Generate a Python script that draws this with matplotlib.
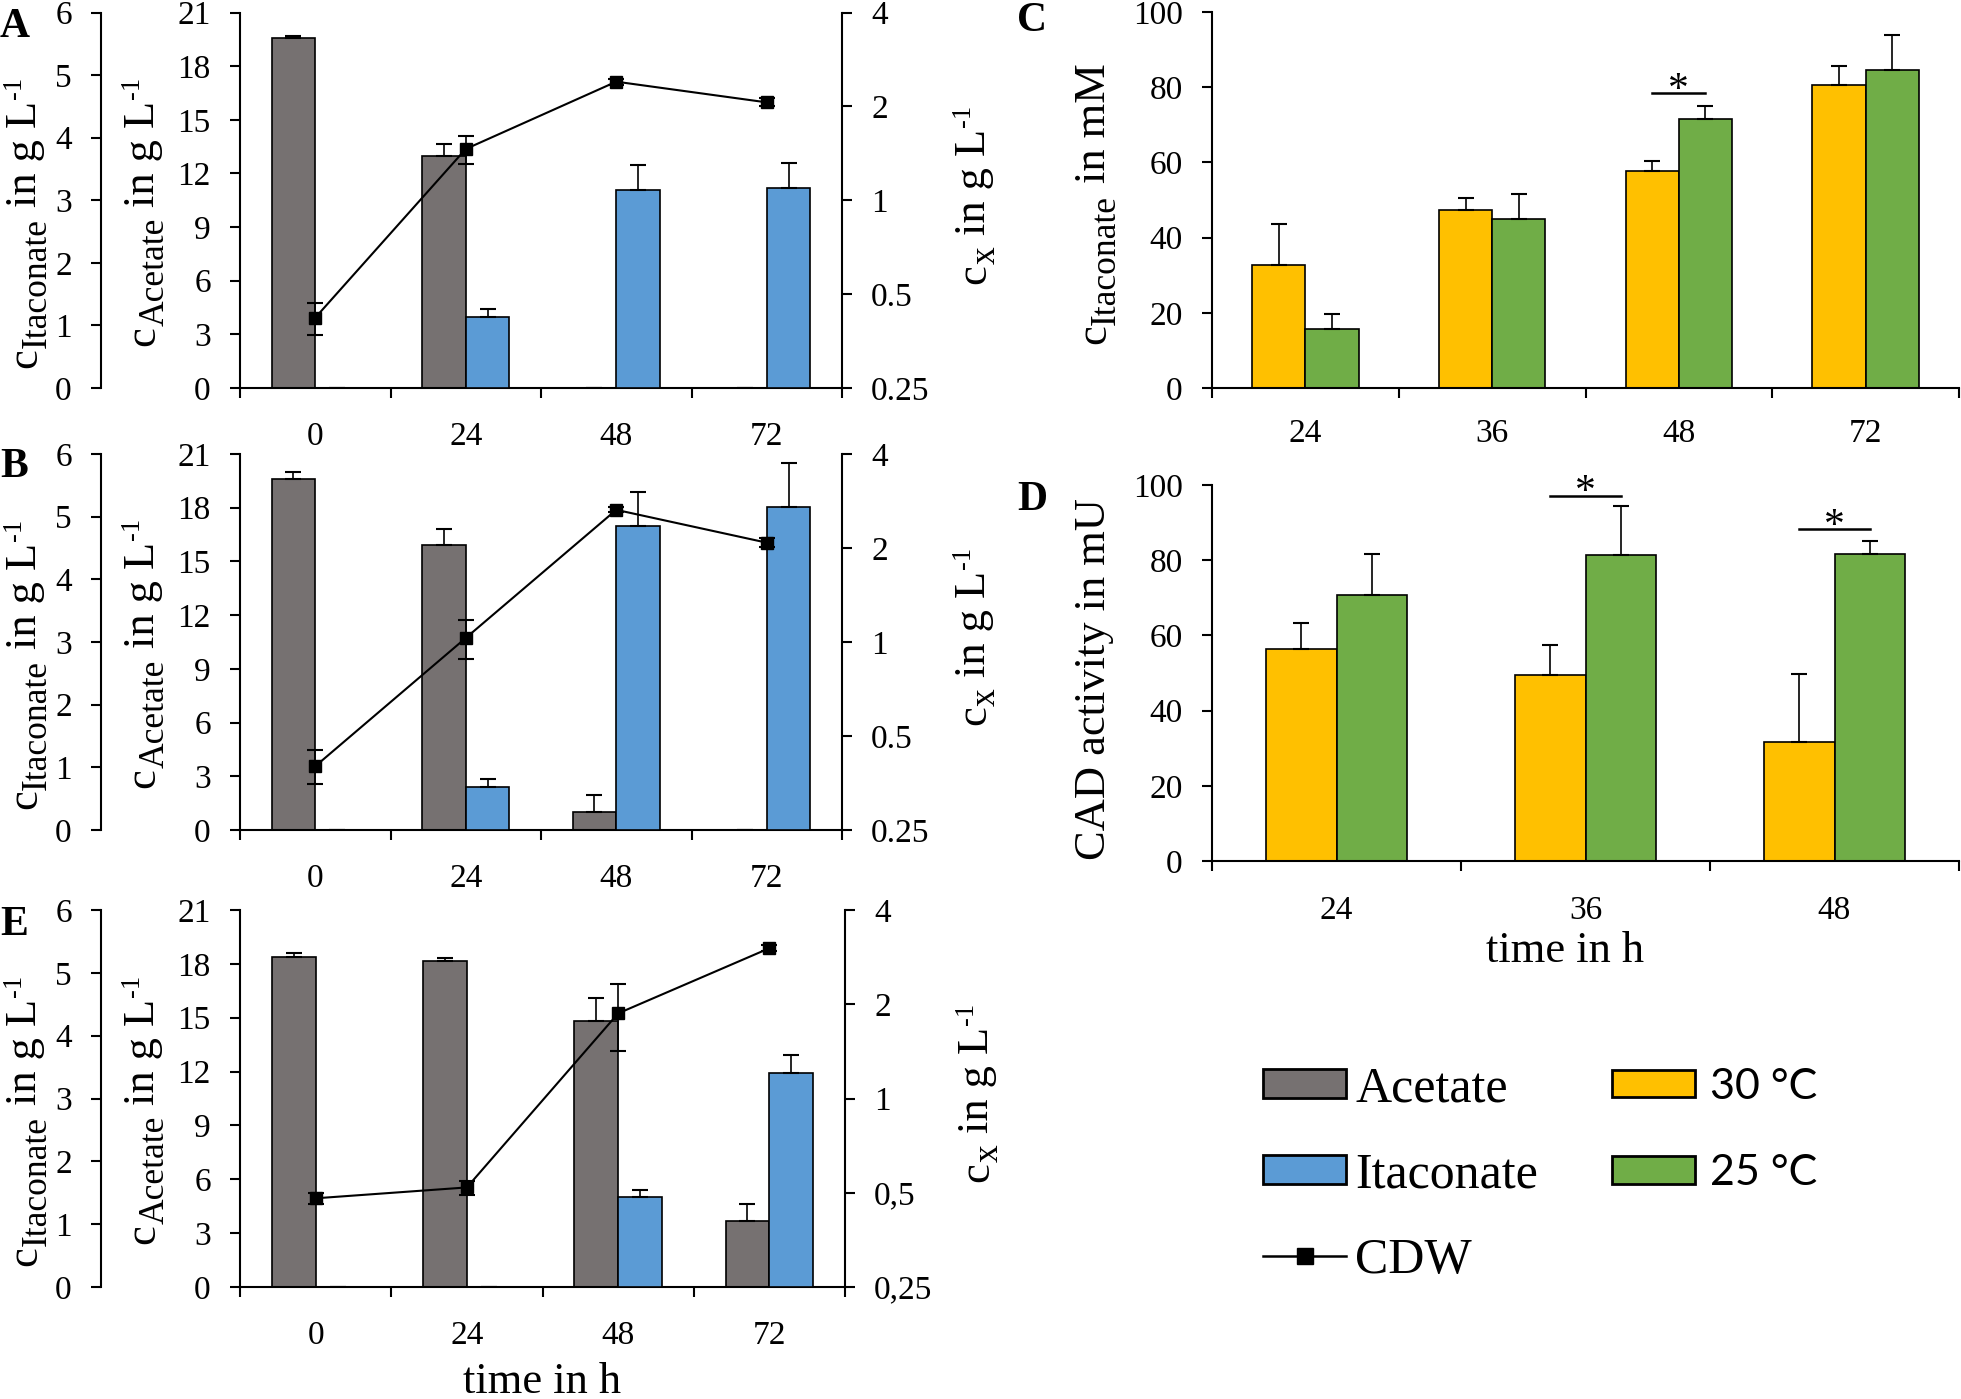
import numpy as np
import matplotlib
matplotlib.use('Agg')
import matplotlib.pyplot as plt
from matplotlib.patches import Patch
from matplotlib.lines import Line2D
from matplotlib.ticker import NullLocator
from matplotlib.transforms import IdentityTransform

plt.rcParams['font.family'] = ['Liberation Serif', 'DejaVu Serif']

# ---------------- data ----------------
time_abe = ['0', '24', '48', '72']

A_acetate = [19.56, 13.0, 0.0, 0.0]
A_acetate_err = [0.10, 0.65, 0.0, 0.0]
A_itaconate = [0.0, 1.13, 3.16, 3.19]
A_itaconate_err = [0.0, 0.14, 0.41, 0.40]
A_cdw = [0.42, 1.46, 2.40, 2.06]
A_cdw_err = [0.05, 0.15, 0.05, 0.06]

B_acetate = [19.6, 15.94, 1.0, 0.0]
B_acetate_err = [0.37, 0.86, 0.95, 0.0]
B_itaconate = [0.0, 0.69, 4.85, 5.16]
B_itaconate_err = [0.0, 0.12, 0.55, 0.70]
B_cdw = [0.40, 1.03, 2.65, 2.08]
B_cdw_err = [0.05, 0.15, 0.05, 0.07]

E_acetate = [18.4, 18.14, 14.79, 3.65]
E_acetate_err = [0.2, 0.2, 1.3, 1.0]
E_itaconate = [0.0, 0.0, 1.44, 3.41]
E_itaconate_err = [0.0, 0.0, 0.11, 0.28]
E_cdw = [0.48, 0.52, 1.87, 3.02]
E_cdw_err = [0.02, 0.027, 0.45, 0.07]

time_c = ['24', '36', '48', '72']
C_30 = [32.6, 47.4, 57.6, 80.7]
C_30_err = [10.9, 3.2, 2.9, 5.0]
C_25 = [15.8, 45.0, 71.5, 84.5]
C_25_err = [4.0, 6.5, 3.6, 9.5]
C_sig_idx = [2]
C_sig_y = [78.5]

time_d = ['24', '36', '48']
D_30 = [56.4, 49.6, 31.7]
D_30_err = [6.8, 7.9, 18.0]
D_25 = [70.7, 81.3, 81.6]
D_25_err = [11.0, 13.1, 3.6]
D_sig_idx = [1, 2]
D_sig_y = [97.2, 88.2]

itac_ticks = [0, 1, 2, 3, 4, 5, 6]
acet_ticks = [0, 3, 6, 9, 12, 15, 18, 21]
cdw_ticks = [0.25, 0.5, 1, 2, 4]
cdw_labels_dot = ['0.25', '0.5', '1', '2', '4']
cdw_labels_comma = ['0,25', '0,5', '1', '2', '4']
pct_ticks = [0, 20, 40, 60, 80, 100]

# ---------------- style ----------------
GRAY = '#767171'
BLUE = '#5B9BD5'
YELLOW = '#FFC000'
GREEN = '#70AD47'
TICK_FS = 24
LAB_FS = 32
SPW = 1.5

W, H = 1961, 1399
fig = plt.figure(figsize=(W / 100, H / 100), dpi=100)
renderer = fig.canvas.get_renderer()

# label pieces: (text, size factor, baseline shift in em (+ = lowered), gap before in em)
LBL_IT = [('c', 1, 0, 0), ('Itaconate', 0.8, 0.22, 0.0), ('in g L', 1, 0, 0.25), ('-1', 0.6, -0.33, 0.04)]
LBL_AC = [('c', 1, 0, 0), ('Acetate', 0.8, 0.22, 0.0), ('in g L', 1, 0, 0.25), ('-1', 0.6, -0.33, 0.04)]
LBL_X = [('c', 1, 0, 0), ('x', 0.8, 0.22, 0.0), ('in g L', 1, 0, 0.25), ('-1', 0.6, -0.33, 0.04)]
LBL_C = [('c', 1, 0, 0), ('Itaconate', 0.8, 0.22, 0.0), ('in mM', 1, 0, 0.25)]
LBL_D = [('CAD activity in mU', 1, 0, 0)]


def measure(s, size):
    t = fig.text(0, 0, s, fontsize=size)
    w = t.get_window_extent(renderer).width
    t.remove()
    return w


def rot_label(x_base, y_center, parts, fs=LAB_FS):
    """Vertical (rotated 90 deg) label built from pieces; x_base = main baseline px,
    y_center = centre px from the top of the figure."""
    em = fs * 100 / 72
    widths = [measure(s, fs * f) for s, f, _, _ in parts]
    total = sum(widths) + sum(g * em for _, _, _, g in parts)
    y = (H - y_center) - total / 2
    for (s, f, sh, g), w in zip(parts, widths):
        y += g * em
        fig.text(x_base + sh * em, y, s, fontsize=fs * f, rotation=90, rotation_mode='anchor',
                 ha='left', va='baseline', transform=IdentityTransform())
        y += w


def axes_px(left, top, right, bottom):
    return fig.add_axes([left / W, 1 - bottom / H, (right - left) / W, (bottom - top) / H])


def setup_xcat(ax, labels, pad):
    n = len(labels)
    ax.set_xlim(0, n)
    ax.set_xticks(np.arange(n + 1))
    ax.set_xticklabels([''] * (n + 1))
    ax.set_xticks(np.arange(n) + 0.5, minor=True)
    ax.set_xticklabels(labels, minor=True)
    ax.tick_params(axis='x', which='major', direction='out', length=7, width=SPW)
    ax.tick_params(axis='x', which='minor', length=0, pad=pad, labelsize=TICK_FS)


def time_panel(rect, right_base, acetate, acetate_err, itac, itac_err, cdw, cdw_err,
               cdw_labels, letter, letter_xy):
    left, top, right, bottom = rect
    ax = axes_px(*rect)
    x = np.arange(len(time_abe)) + 0.5
    bw = 0.29
    zeros = np.zeros(len(x))
    ax.bar(x - bw / 2, acetate, bw, color=GRAY, edgecolor='black', linewidth=1.2, zorder=2)
    ax.errorbar(x - bw / 2, acetate, yerr=[zeros, acetate_err], fmt='none', ecolor='black',
                elinewidth=1.2, capsize=5.5, capthick=1.5, zorder=3)
    ax.set_ylim(0, 21)
    ax.set_yticks(acet_ticks)
    ax.tick_params(axis='y', direction='out', length=7, width=SPW, labelsize=TICK_FS, pad=14)
    for s in ['top', 'right']:
        ax.spines[s].set_visible(False)
    for s in ['left', 'bottom']:
        ax.spines[s].set_linewidth(SPW)
    setup_xcat(ax, time_abe, 24)

    ax_it = ax.twinx()
    ax_it.bar(x + bw / 2, itac, bw, color=BLUE, edgecolor='black', linewidth=1.2, zorder=2)
    ax_it.errorbar(x + bw / 2, itac, yerr=[zeros, itac_err], fmt='none', ecolor='black',
                   elinewidth=1.2, capsize=5.5, capthick=1.5, zorder=3)
    ax_it.set_ylim(0, 6)
    ax_it.set_yticks(itac_ticks)
    for s in ['top', 'right', 'bottom']:
        ax_it.spines[s].set_visible(False)
    ax_it.spines['left'].set_visible(True)
    ax_it.spines['left'].set_linewidth(SPW)
    ax_it.spines['left'].set_position(('axes', (101 - left) / (right - left)))
    ax_it.yaxis.set_ticks_position('left')
    ax_it.tick_params(axis='y', direction='out', length=7, width=SPW, labelsize=TICK_FS, pad=14)

    ax_c = ax.twinx()
    ax_c.errorbar(x, cdw, yerr=cdw_err, color='black', lw=1.5, marker='s', markersize=8,
                  ecolor='black', elinewidth=1.2, capsize=5.5, capthick=1.5, zorder=4)
    ax_c.set_yscale('log', base=2)
    ax_c.set_ylim(0.25, 4)
    ax_c.set_yticks(cdw_ticks)
    ax_c.set_yticklabels(cdw_labels)
    ax_c.yaxis.set_minor_locator(NullLocator())
    for s in ['top', 'left', 'bottom']:
        ax_c.spines[s].set_visible(False)
    ax_c.spines['right'].set_linewidth(SPW)
    ax_c.tick_params(axis='y', direction='out', length=7, width=SPW, labelsize=TICK_FS, pad=14)

    cy = (top + bottom) / 2
    rot_label(36, cy + 22, LBL_IT)
    rot_label(154, cy + 11, LBL_AC)
    rot_label(right_base, cy - 6, LBL_X)
    fig.text(letter_xy[0] / W, 1 - letter_xy[1] / H, letter, fontsize=30, fontweight='bold',
             ha='left', va='top')
    return ax


time_panel((240, 12.5, 842, 388), 985, A_acetate, A_acetate_err, A_itaconate, A_itaconate_err,
           A_cdw, A_cdw_err, cdw_labels_dot, 'A', (0, 8))
time_panel((240, 454, 842, 830), 985, B_acetate, B_acetate_err, B_itaconate, B_itaconate_err,
           B_cdw, B_cdw_err, cdw_labels_dot, 'B', (0, 448))
time_panel((240, 910, 845, 1287), 988, E_acetate, E_acetate_err, E_itaconate, E_itaconate_err,
           E_cdw, E_cdw_err, cdw_labels_comma, 'E', (0, 906))
fig.text(542 / W, 1 - 1382 / H, 'time in h', fontsize=32, ha='center', va='center')


def temp_panel(rect, labels, v30, e30, v25, e25, sig_idx, sig_y, pad, ylabel, lab_base, lab_dy,
               letter, letter_xy):
    ax = axes_px(*rect)
    x = np.arange(len(labels)) + 0.5
    bw = 0.285
    zeros = np.zeros(len(x))
    ax.bar(x - bw / 2, v30, bw, color=YELLOW, edgecolor='black', linewidth=1.2, zorder=2)
    ax.bar(x + bw / 2, v25, bw, color=GREEN, edgecolor='black', linewidth=1.2, zorder=2)
    ax.errorbar(x - bw / 2, v30, yerr=[zeros, e30], fmt='none', ecolor='black',
                elinewidth=1.2, capsize=5.5, capthick=1.5, zorder=3)
    ax.errorbar(x + bw / 2, v25, yerr=[zeros, e25], fmt='none', ecolor='black',
                elinewidth=1.2, capsize=5.5, capthick=1.5, zorder=3)
    for i, yv in zip(sig_idx, sig_y):
        ax.plot([i + 0.5 - bw / 2, i + 0.5 + bw / 2], [yv, yv], color='black', lw=1.8,
                clip_on=False, zorder=4)
        ax.annotate('*', (i + 0.5, yv), xytext=(0, -12), textcoords='offset points',
                    fontsize=30, ha='center', va='bottom', annotation_clip=False)
    ax.set_ylim(0, 100)
    ax.set_yticks(pct_ticks)
    ax.tick_params(axis='y', direction='out', length=7, width=SPW, labelsize=TICK_FS, pad=14)
    for s in ['top', 'right']:
        ax.spines[s].set_visible(False)
    for s in ['left', 'bottom']:
        ax.spines[s].set_linewidth(SPW)
    setup_xcat(ax, labels, pad)
    top, bottom = rect[1], rect[3]
    rot_label(lab_base, (top + bottom) / 2 + lab_dy, ylabel)
    fig.text(letter_xy[0] / W, 1 - letter_xy[1] / H, letter, fontsize=30, fontweight='bold',
             ha='left', va='top')
    return ax


temp_panel((1212, 12, 1959, 388), time_c, C_30, C_30_err, C_25, C_25_err, C_sig_idx, C_sig_y, 22,
           LBL_C, 1105, 4, 'C', (1017, 2))
temp_panel((1212, 485, 1959, 861), time_d, D_30, D_30_err, D_25, D_25_err, D_sig_idx, D_sig_y, 25,
           LBL_D, 1105, 6, 'D', (1017, 481))
fig.text(1565 / W, 1 - 951 / H, 'time in h', fontsize=32, ha='center', va='center')

# ---------------- legends ----------------
h1 = [Patch(facecolor=GRAY, edgecolor='black', linewidth=2, label='Acetate'),
      Patch(facecolor=BLUE, edgecolor='black', linewidth=2, label='Itaconate'),
      Line2D([0], [0], color='black', lw=1.8, marker='s', markersize=11, label='CDW')]
fig.legend(handles=h1, loc='upper left', bbox_to_anchor=(1263 / W, 1 - 1066 / H),
           frameon=False, fontsize=36, handlelength=1.66, handleheight=0.52,
           handletextpad=0.18, labelspacing=0.78, borderpad=0, borderaxespad=0)
h2 = [Patch(facecolor=YELLOW, edgecolor='black', linewidth=2, label='30 °C'),
      Patch(facecolor=GREEN, edgecolor='black', linewidth=2, label='25 °C')]
fig.legend(handles=h2, loc='upper left', bbox_to_anchor=(1612 / W, 1 - 1068 / H),
           frameon=False, prop={'family': 'Lato', 'size': 31}, handlelength=1.93,
           handleheight=0.6, handletextpad=0.35, labelspacing=1.12, borderpad=0,
           borderaxespad=0)

fig.savefig('out.png', dpi=100)
